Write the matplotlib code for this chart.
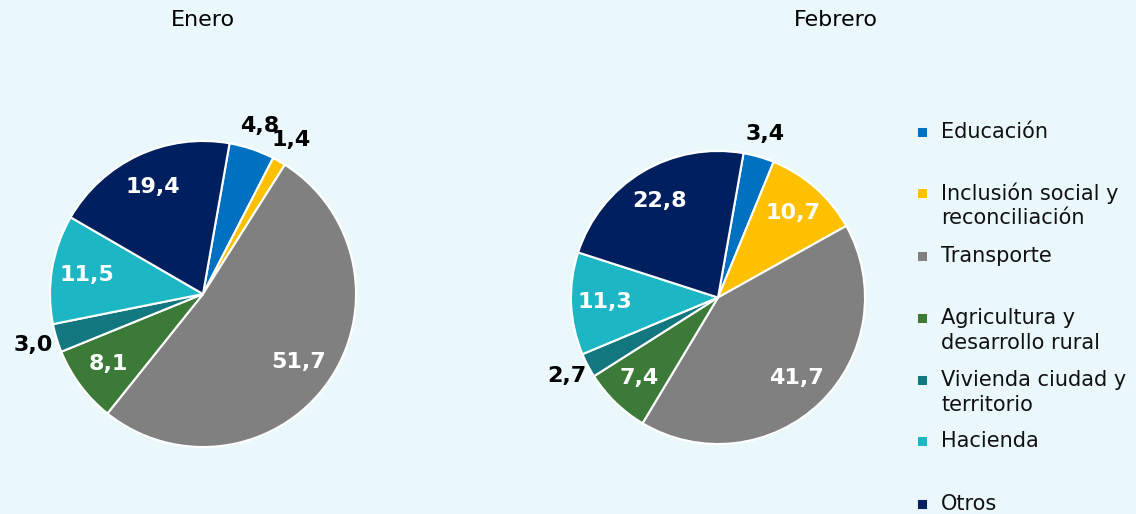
import numpy as np
import matplotlib
matplotlib.use("Agg")
import matplotlib.pyplot as plt
from matplotlib.patches import Rectangle

categories = ["Educación", "Inclusión social y\nreconciliación", "Transporte",
              "Agricultura y\ndesarrollo rural", "Vivienda ciudad y\nterritorio",
              "Hacienda", "Otros"]
enero = [4.8, 1.4, 51.7, 8.1, 3.0, 11.5, 19.4]
febrero = [3.4, 10.7, 41.7, 7.4, 2.7, 11.3, 22.8]
titles = ["Enero", "Febrero"]
colors = ["#0070C0", "#FFC000", "#808080", "#3B7A37", "#13777F", "#1CB6C5", "#001F5F"]

BG = "#EAF8FC"
W, H = 1136, 514
fig = plt.figure(figsize=(W / 100, H / 100), dpi=100, facecolor=BG)
plt.rcParams['font.family'] = ['DejaVu Sans']

def px_axes(left, top, right, bottom):
    return fig.add_axes([left / W, 1 - bottom / H, (right - left) / W, (bottom - top) / H])

boxes = [(50, 141, 356, 447), (571, 151, 865, 444)]
title_x = [203, 836]
start = 80

for vals, box, tx, title in zip([enero, febrero], boxes, title_x, titles):
    ax = px_axes(*box)
    ax.set_facecolor(BG)
    wedges, _ = ax.pie(vals, colors=colors, startangle=start, counterclock=False,
                       wedgeprops=dict(edgecolor="white", linewidth=1.5))
    ax.set_xlim(-1, 1)
    ax.set_ylim(-1, 1)
    ax.set_aspect("auto")
    ax.axis("off")
    total = sum(vals)
    cum = 0.0
    for v in vals:
        mid = start - (cum + v / 2) / total * 360
        cum += v
        a = np.deg2rad(mid)
        txt = f"{v:.1f}".replace(".", ",")
        if v < 5:
            r, col = 1.16, "black"
        else:
            r, col = 0.77, "white"
        ax.text(r * np.cos(a), r * np.sin(a), txt, ha="center", va="center",
                color=col, fontsize=16, fontweight="bold", clip_on=False)
    fig.text(tx / W, 1 - 20 / H, title, ha="center", va="center", fontsize=16, color="black")

# legend
leg_y = [132, 193, 256, 318, 380, 441, 504]
line_h = 25
for cat, c, y in zip(categories, colors, leg_y):
    fig.patches.append(Rectangle(((917) / W, 1 - (y + 5) / H), 10 / W, 10 / H,
                                 transform=fig.transFigure, facecolor=c,
                                 edgecolor="white", linewidth=0.6))
    for i, line in enumerate(cat.split("\n")):
        fig.text(941 / W, 1 - (y + i * line_h) / H, line, ha="left", va="center",
                 fontsize=15, color="#111111")

fig.savefig("out.png", dpi=100, facecolor=BG)
